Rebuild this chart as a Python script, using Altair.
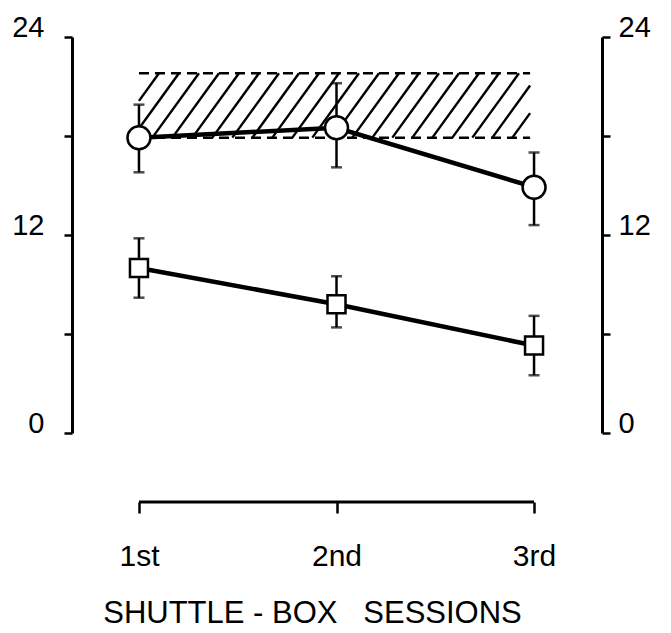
import json
import altair as alt
import pandas as pd

# ---- data ----
sessions = ["1st", "2nd", "3rd"]
circle_mean = [17.9, 18.5, 14.9]
circle_hi = [19.9, 21.2, 17.0]
circle_lo = [15.8, 16.1, 12.6]
square_mean = [10.0, 7.8, 5.3]
square_hi = [11.8, 9.5, 7.1]
square_lo = [8.2, 6.4, 3.5]
band_lo, band_hi = 17.9, 21.8
band_x0, band_x1 = 1.0, 2.98
y_ticks = [0, 6, 12, 18, 24]
x_title = "SHUTTLE\u00a0-\u00a0BOX\u00a0\u00a0\u00a0SESSIONS"

# ---- layout ----
W, H = 530, 396
XDOM = [0.661, 3.344]
YDOM = [0, 24]
px_x = W / (XDOM[1] - XDOM[0])
px_y = H / (YDOM[1] - YDOM[0])

pos = list(range(1, len(sessions) + 1))
circ = pd.DataFrame({"pos": pos, "m": circle_mean, "lo": circle_lo, "hi": circle_hi})
sq = pd.DataFrame({"pos": pos, "m": square_mean, "lo": square_lo, "hi": square_hi})

# hatch segments derived from band extent
dy_px = (band_hi - band_lo) * px_y
dx_px = dy_px / 1.38
step_px = 20.0
rows = []
x0 = band_x0 - dx_px / px_x
while x0 < band_x1:
    xa, ya = x0, band_lo
    xb, yb = x0 + dx_px / px_x, band_hi
    if xa < band_x0:
        t = (band_x0 - xa) / (xb - xa)
        xa, ya = band_x0, band_lo + t * (band_hi - band_lo)
    if xb > band_x1:
        t = (band_x1 - x0) / (dx_px / px_x)
        xb, yb = band_x1, band_lo + t * (band_hi - band_lo)
    if xb > xa:
        rows.append({"xa": xa, "ya": ya, "xb": xb, "yb": yb})
    x0 += step_px / px_x
hatch = pd.DataFrame(rows)
band = pd.DataFrame({"x": [band_x0, band_x0], "x2": [band_x1, band_x1], "y": [band_lo, band_hi]})
bracket = pd.DataFrame({"x": [pos[0]], "x2": [pos[-1]]})

FONT = "Liberation Sans"
xscale = alt.Scale(domain=XDOM, nice=False, zero=False)
yscale = alt.Scale(domain=YDOM, nice=False, zero=False)

x_axis = alt.Axis(
    values=pos, offset=69, domain=False, tickSize=11, tickWidth=2.5, tickColor="black",
    labelExpr=f"{json.dumps(sessions)}[datum.value - 1]", labelFontSize=30,
    labelPadding=28, labelFont=FONT, labelColor="black",
    title=x_title, titleFontSize=31, titleFont=FONT, titleX=240,
    titleFontWeight="normal", titleColor="black", titlePadding=27, grid=False,
)
X = lambda f: alt.X(f, type="quantitative", scale=xscale, axis=x_axis)

y_left = alt.Axis(
    values=y_ticks, orient="left", labelExpr="datum.value % 12 == 0 ? datum.label : ''",
    tickSize=8, tickWidth=2.5, tickColor="black", domainWidth=3, domainColor="black",
    labelFontSize=29, labelFont=FONT, labelColor="black", labelPadding=20,
    labelOffset=-10, title=None, grid=False,
)
y_right = alt.Axis(
    values=y_ticks, orient="right", labelExpr="datum.value % 12 == 0 ? datum.label : ''",
    tickSize=8, tickWidth=2.5, tickColor="black", domainWidth=3, domainColor="black",
    labelFontSize=29, labelFont=FONT, labelColor="black", labelPadding=8,
    labelOffset=-10, title=None, grid=False,
)

def Y(f, axis=None):
    return alt.Y(f, type="quantitative", scale=yscale, axis=axis)

hatch_layer = alt.Chart(hatch).mark_rule(color="black", strokeWidth=2.4).encode(
    x=X("xa"), x2="xb", y=Y("ya", y_left), y2="yb")
band_layer = alt.Chart(band).mark_rule(color="black", strokeWidth=2.5, strokeDash=[10, 6]).encode(
    x=X("x"), x2="x2", y=Y("y", y_right))
bracket_layer = alt.Chart(bracket).mark_rule(color="black", strokeWidth=3).encode(
    x=X("x"), x2="x2", y=alt.value(H + 69))

def series(df, shape, size):
    err = alt.Chart(df).mark_rule(color="black", strokeWidth=2.5).encode(
        x=X("pos"), y=Y("lo"), y2="hi")
    cap_hi = alt.Chart(df).mark_tick(color="black", orient="horizontal", size=11, thickness=2.5).encode(
        x=X("pos"), y=Y("hi"))
    cap_lo = alt.Chart(df).mark_tick(color="black", orient="horizontal", size=11, thickness=2.5).encode(
        x=X("pos"), y=Y("lo"))
    line = alt.Chart(df).mark_line(color="black", strokeWidth=4.5).encode(
        x=X("pos"), y=Y("m"))
    pts = alt.Chart(df).mark_point(shape=shape, size=size, filled=True, fill="white",
                                    stroke="black", strokeWidth=2.5, opacity=1).encode(
        x=X("pos"), y=Y("m"))
    return [err, cap_hi, cap_lo, line, pts]

layers = [hatch_layer, band_layer, bracket_layer] + series(circ, "circle", 529) + series(sq, "square", 324)

chart = alt.layer(*layers).resolve_axis(y="independent").properties(
    width=W, height=H,
    autosize=alt.AutoSizeParams(type="none"),
    padding={"left": 64, "top": 29, "right": 61, "bottom": 196},
    background="white",
).configure_view(stroke=None)

chart.save("out.html", embed_options={"renderer": "svg", "actions": False})
